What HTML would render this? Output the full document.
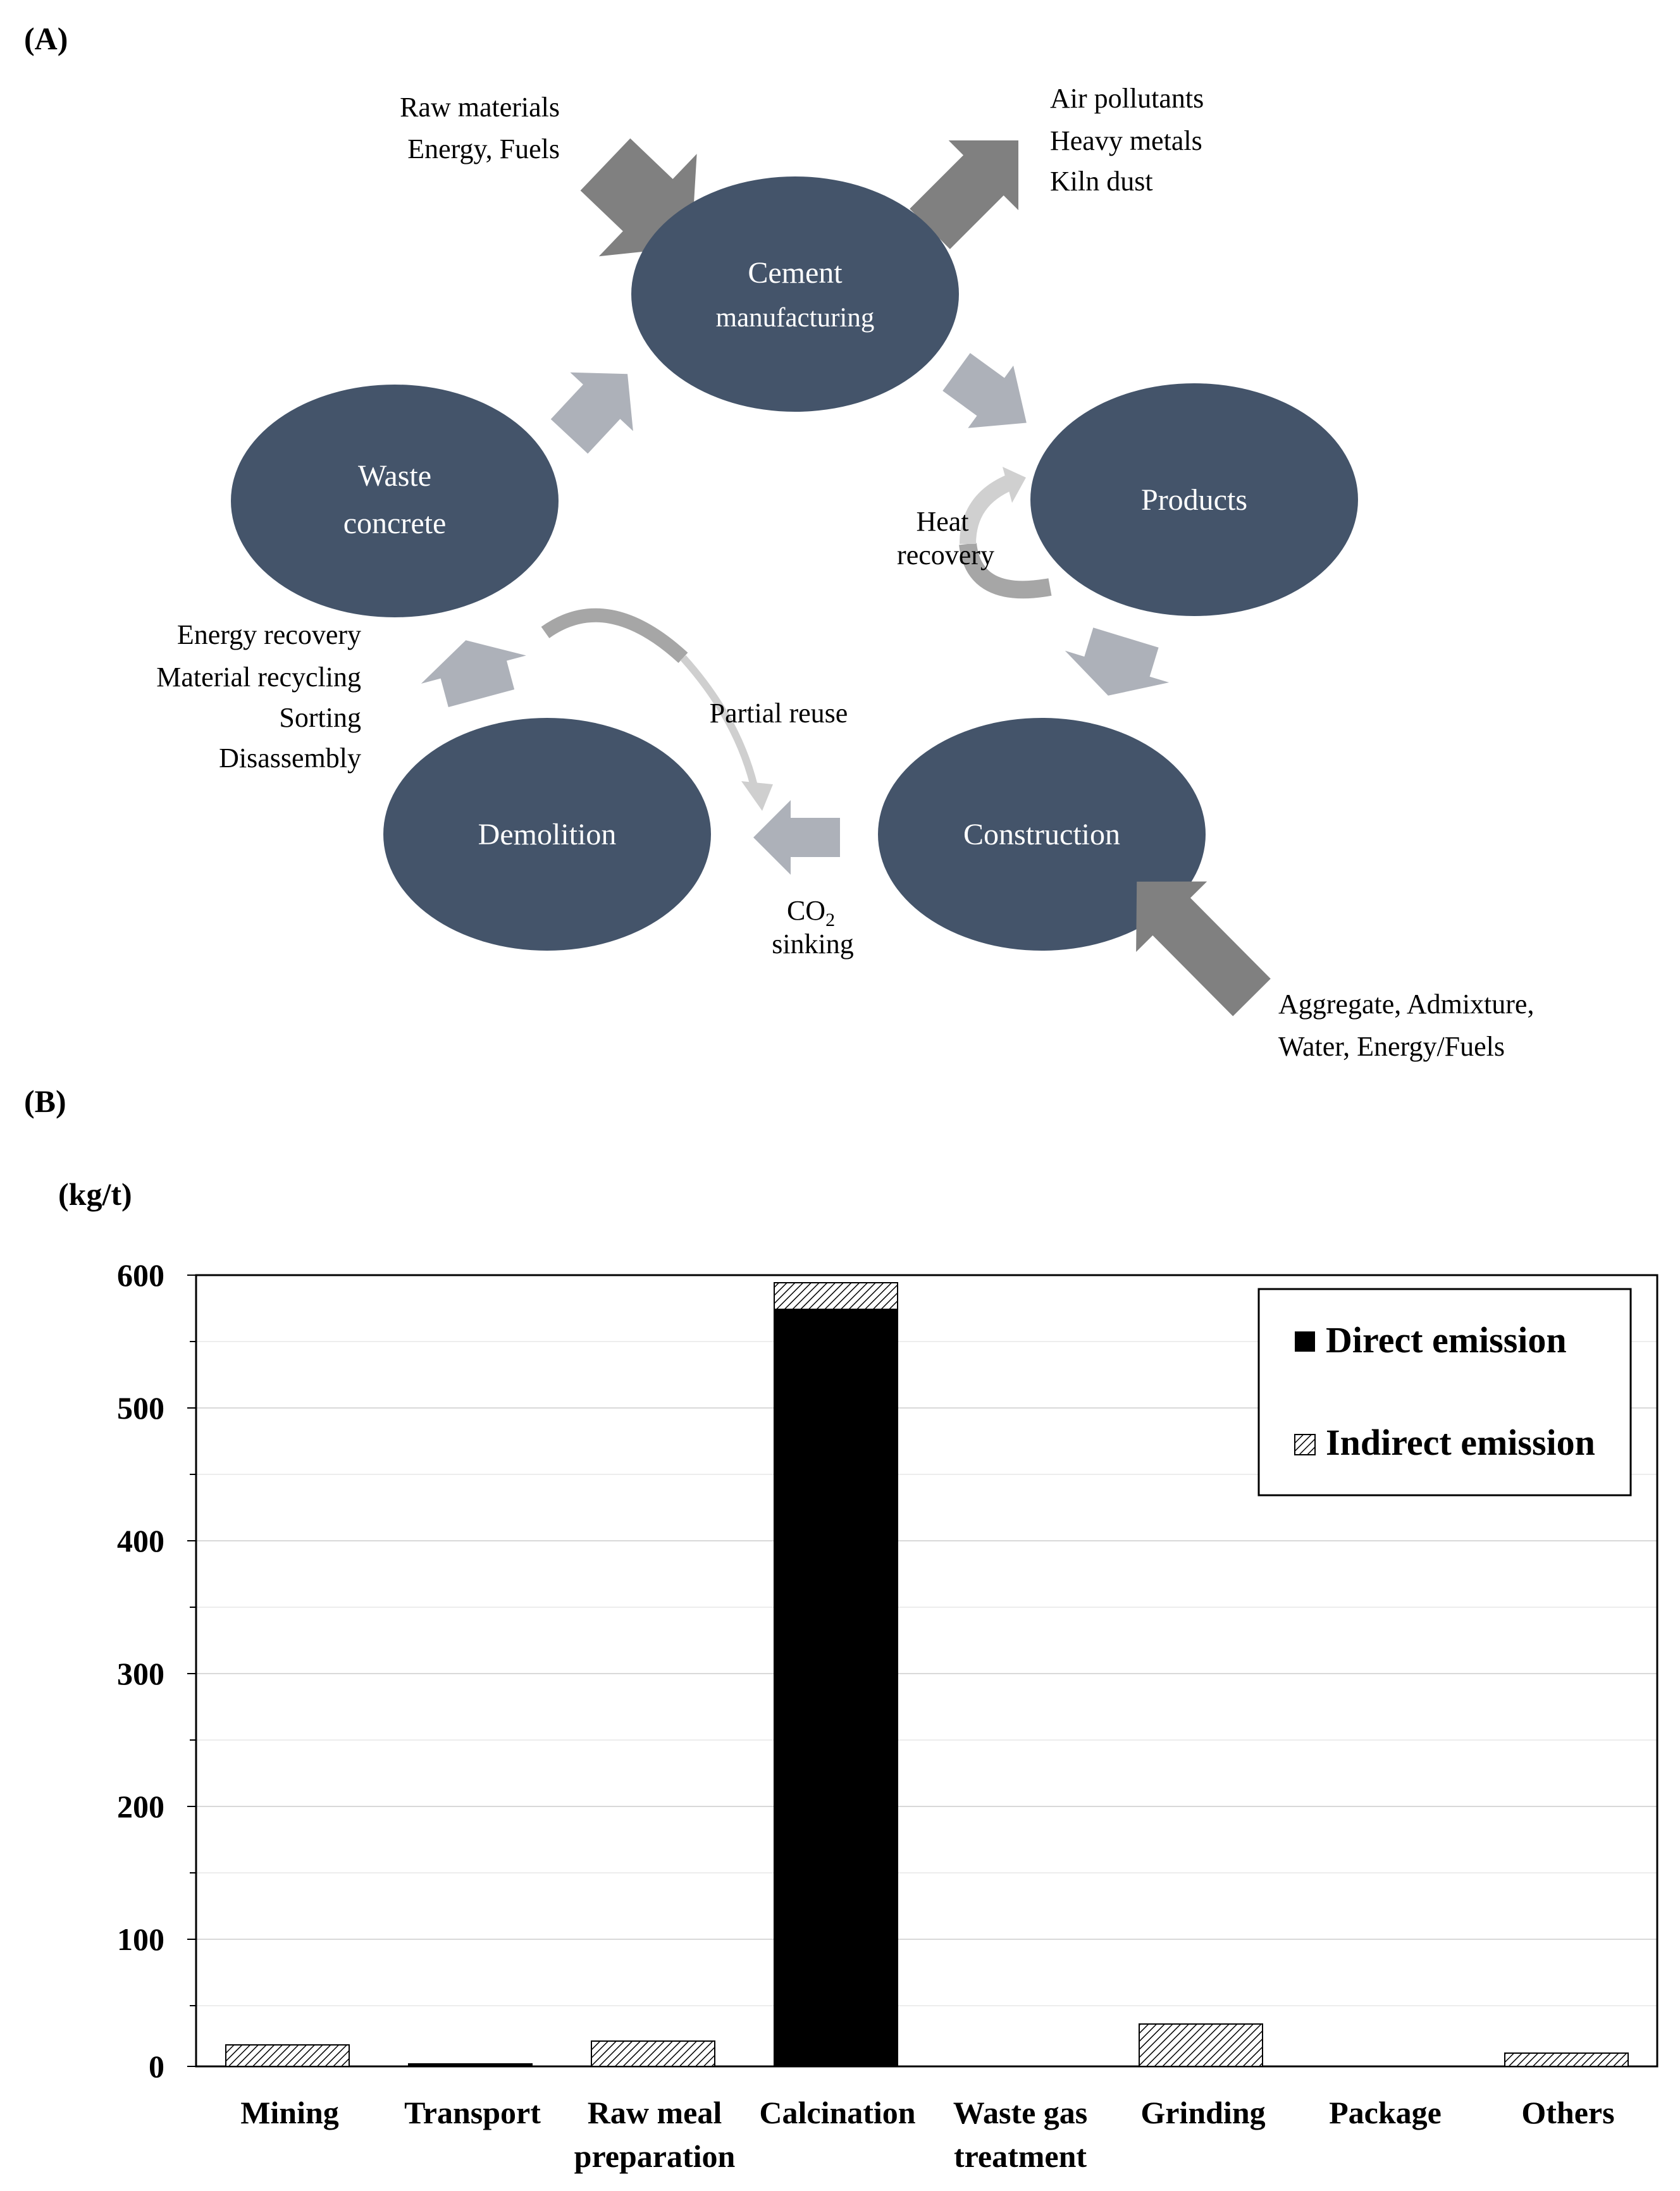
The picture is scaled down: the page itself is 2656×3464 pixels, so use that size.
<!DOCTYPE html>
<html><head><meta charset="utf-8"><style>
html,body{margin:0;padding:0;background:#fff;}
svg{display:block;}
text{font-family:"Liberation Serif",serif;}
</style></head><body>
<svg width="2656" height="3464" viewBox="0 0 2656 3464" xmlns="http://www.w3.org/2000/svg">
<defs>
<pattern id="h" patternUnits="userSpaceOnUse" width="9" height="9" patternTransform="rotate(45)">
<rect width="9" height="9" fill="#fff"/><line x1="0" y1="0" x2="0" y2="9" stroke="#000" stroke-width="3"/>
</pattern>
</defs>
<text x="38" y="78" font-size="50" font-weight="bold">(A)</text>

<!-- dark arrows -->
<g fill="#808080">
<polygon transform="translate(957,260) rotate(43.7)" points="0,-57 93,-57 93,-112 188,0 93,112 93,57 0,57"/>
<polygon transform="translate(1470,362) rotate(-45)" points="0,-45 120,-45 120,-78 198,0 120,78 120,45 0,45"/>
</g>
<!-- light arrows -->
<g fill="#adb1b9">
<polygon transform="translate(1512,588) rotate(36)" points="0,-37 67,-37 67,-61 137,0 67,61 67,37 0,37"/>
<polygon transform="translate(1780,1008) rotate(107)" points="0,-54 48,-54 48,-86 96,0 48,86 48,54 0,54"/>
<polygon transform="translate(1328,1324) rotate(180)" points="0,-31 78,-31 78,-59 137,0 78,59 78,31 0,31"/>
<polygon transform="translate(761,1104) rotate(-105)" points="0,-54 47,-54 47,-86 95,0 47,86 47,54 0,54"/>
<polygon transform="translate(900,690) rotate(-47)" points="0,-40 75,-40 75,-68 135,0 75,68 75,40 0,40"/>
</g>
<!-- curved arrows -->
<path d="M1660,928 Q1540,950 1530,860" fill="none" stroke="#a6a6a6" stroke-width="28"/>
<path d="M1530,860 Q1530,790 1598,762" fill="none" stroke="#d0d0d0" stroke-width="26"/>
<polygon points="1585,738 1622,755 1600,795" fill="#d0d0d0"/>
<path d="M862,1000 Q960,930 1080,1040" fill="none" stroke="#a6a6a6" stroke-width="22"/>
<path d="M1080,1040 Q1170,1140 1195,1255" fill="none" stroke="#cfcfcf" stroke-width="12"/>
<polygon points="1172,1235 1222,1240 1205,1282" fill="#cfcfcf"/>

<!-- ellipses -->
<g fill="#44546a">
<ellipse cx="1257" cy="465" rx="259" ry="186"/>
<ellipse cx="1888" cy="790" rx="259" ry="184"/>
<ellipse cx="624" cy="792" rx="259" ry="184"/>
<ellipse cx="865" cy="1319" rx="259" ry="184"/>
<ellipse cx="1647" cy="1319" rx="259" ry="184"/>
</g>
<polygon transform="translate(1979,1577) rotate(225.2)" points="0,-42 180,-42 180,-79 258,0 180,79 180,42 0,42" fill="#808080"/>

<g fill="#fff" font-size="48" text-anchor="middle">
<text x="1257" y="447">Cement</text>
<text x="1257" y="516" font-size="43">manufacturing</text>
<text x="624" y="768">Waste</text>
<text x="624" y="843">concrete</text>
<text x="1888" y="806">Products</text>
<text x="865" y="1335">Demolition</text>
<text x="1647" y="1335">Construction</text>
</g>
<g fill="#000" font-size="44">
<text x="885" y="184" text-anchor="end">Raw materials</text>
<text x="885" y="250" text-anchor="end">Energy, Fuels</text>
<text x="1660" y="170">Air pollutants</text>
<text x="1660" y="237">Heavy metals</text>
<text x="1660" y="301">Kiln dust</text>
<text x="1490" y="839" text-anchor="middle">Heat</text>
<text x="1495" y="892" text-anchor="middle">recovery</text>
<text x="571" y="1018" text-anchor="end">Energy recovery</text>
<text x="571" y="1085" text-anchor="end">Material recycling</text>
<text x="571" y="1149" text-anchor="end">Sorting</text>
<text x="571" y="1213" text-anchor="end">Disassembly</text>
<text x="1231" y="1142" text-anchor="middle">Partial reuse</text>
<text x="1282" y="1454" text-anchor="middle">CO<tspan font-size="30" dy="10">2</tspan></text>
<text x="1285" y="1507" text-anchor="middle">sinking</text>
<text x="2021" y="1602">Aggregate, Admixture,</text>
<text x="2021" y="1669">Water, Energy/Fuels</text>
</g>

<text x="38" y="1758" font-size="50" font-weight="bold">(B)</text>
<text x="92" y="1905" font-size="50" font-weight="bold">(kg/t)</text>

<!-- grid -->
<g stroke="#ededed" stroke-width="2">
<line x1="310" x2="2620" y1="2121" y2="2121"/><line x1="310" x2="2620" y1="2331" y2="2331"/>
<line x1="310" x2="2620" y1="2541" y2="2541"/><line x1="310" x2="2620" y1="2751" y2="2751"/>
<line x1="310" x2="2620" y1="2961" y2="2961"/><line x1="310" x2="2620" y1="3171" y2="3171"/>
</g>
<g stroke="#d9d9d9" stroke-width="2">
<line x1="310" x2="2620" y1="2226" y2="2226"/><line x1="310" x2="2620" y1="2436" y2="2436"/>
<line x1="310" x2="2620" y1="2646" y2="2646"/><line x1="310" x2="2620" y1="2856" y2="2856"/>
<line x1="310" x2="2620" y1="3066" y2="3066"/>
</g>
<g stroke="#000" stroke-width="2">
<line x1="296" x2="310" y1="2016" y2="2016"/><line x1="300" x2="310" y1="2121" y2="2121"/>
<line x1="296" x2="310" y1="2226" y2="2226"/><line x1="300" x2="310" y1="2331" y2="2331"/>
<line x1="296" x2="310" y1="2436" y2="2436"/><line x1="300" x2="310" y1="2541" y2="2541"/>
<line x1="296" x2="310" y1="2646" y2="2646"/><line x1="300" x2="310" y1="2751" y2="2751"/>
<line x1="296" x2="310" y1="2856" y2="2856"/><line x1="300" x2="310" y1="2961" y2="2961"/>
<line x1="296" x2="310" y1="3066" y2="3066"/><line x1="300" x2="310" y1="3171" y2="3171"/>
<line x1="296" x2="310" y1="3267" y2="3267"/>
</g>
<rect x="310" y="2016" width="2310" height="1251" fill="none" stroke="#000" stroke-width="3"/>

<!-- bars -->
<g stroke="#000" stroke-width="2">
<rect x="357" y="3233" width="195" height="34" fill="url(#h)"/>
<rect x="646" y="3263" width="195" height="4" fill="#000"/>
<rect x="935" y="3227" width="195" height="40" fill="url(#h)"/>
<rect x="1224" y="2070" width="195" height="1197" fill="#000"/>
<rect x="1224" y="2028" width="195" height="42" fill="url(#h)"/>
<rect x="1801" y="3200" width="195" height="67" fill="url(#h)"/>
<rect x="2379" y="3246" width="195" height="21" fill="url(#h)"/>
</g>

<g font-size="50" font-weight="bold" text-anchor="end">
<text x="260" y="2033">600</text><text x="260" y="2243">500</text>
<text x="260" y="2453">400</text><text x="260" y="2663">300</text>
<text x="260" y="2873">200</text><text x="260" y="3083">100</text>
<text x="260" y="3284">0</text>
</g>
<g font-size="50" font-weight="bold" text-anchor="middle">
<text x="458" y="3357">Mining</text>
<text x="747" y="3357">Transport</text>
<text x="1035" y="3357">Raw meal</text>
<text x="1035" y="3426">preparation</text>
<text x="1324" y="3357">Calcination</text>
<text x="1613" y="3357">Waste gas</text>
<text x="1613" y="3426">treatment</text>
<text x="1902" y="3357">Grinding</text>
<text x="2190" y="3357">Package</text>
<text x="2479" y="3357">Others</text>
</g>

<!-- legend -->
<rect x="1990" y="2038" width="588" height="326" fill="#fff" stroke="#000" stroke-width="3"/>
<rect x="2047" y="2105" width="32" height="32" fill="#000"/>
<rect x="2047" y="2268" width="32" height="32" fill="url(#h)" stroke="#000" stroke-width="2"/>
<g font-size="58" font-weight="bold">
<text x="2096" y="2138">Direct emission</text>
<text x="2096" y="2300">Indirect emission</text>
</g>
</svg>
</body></html>
